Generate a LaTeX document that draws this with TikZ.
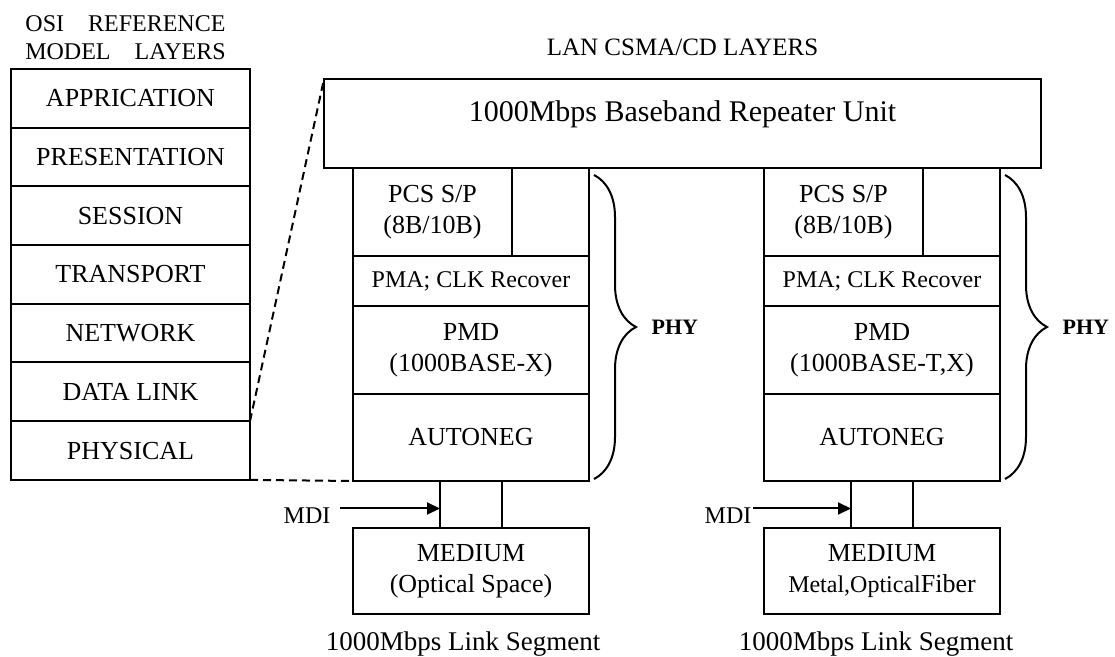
\documentclass[tikz,border=0pt]{standalone}
\usepackage{fontspec}
\setmainfont{Liberation Serif}
\usepackage{tikz}
\usetikzlibrary{positioning,calc,arrows.meta,decorations.pathreplacing}
\tikzset{
  osi layer/.style={rectangle, draw, align=center, minimum width=119.5pt, minimum height=29.35pt, inner sep=0pt, outer sep=0pt, font=\fontsize{13}{15.5}\selectfont},
  lan layer/.style={rectangle, draw, align=center, minimum width=118pt, inner sep=0pt, outer sep=0pt, font=\fontsize{13}{15.5}\selectfont},
  pcs layer/.style={lan layer, minimum width=79.5pt, minimum height=44pt},
  mdi box/.style={rectangle, draw, minimum width=31pt, minimum height=23.5pt, inner sep=0pt, outer sep=0pt},
  repeater unit/.style={rectangle, draw, minimum width=358.5pt, minimum height=44.5pt, inner sep=0pt, outer sep=0pt},
  head text/.style={align=center, font=\fontsize{12.5}{14}\selectfont},
  mdi label/.style={font=\fontsize{12}{14}\selectfont},
  mdi arrow/.style={-{Triangle[length=6.5pt,width=6pt]}},
  zoom line/.style={dash pattern=on 4pt off 2.5pt},
  phy brace/.style={decorate, decoration={brace, amplitude=21pt}},
  phy label/.style={font=\bfseries\fontsize{11}{13}\selectfont},
  segment label/.style={font=\fontsize{13.5}{15}\selectfont}
}

\begin{document}
\begin{tikzpicture}[x=0.5pt, y=-0.5pt, line width=1pt]
    \useasboundingbox (0,0) rectangle (1115,657);

    % OSI reference model
    \node [osi layer, anchor=north west] (Osi1) at (11,69) {APPRICATION};
    \node [osi layer, below=0pt of Osi1] (Osi2) {PRESENTATION};
    \node [osi layer, below=0pt of Osi2] (Osi3) {SESSION};
    \node [osi layer, below=0pt of Osi3] (Osi4) {TRANSPORT};
    \node [osi layer, below=0pt of Osi4] (Osi5) {NETWORK};
    \node [osi layer, below=0pt of Osi5] (Osi6) {DATA LINK};
    \node [osi layer, below=0pt of Osi6] (Osi7) {PHYSICAL};
    \node [head text, font=\fontsize{12}{14}\selectfont, above=1pt of Osi1, xshift=-2.5pt] (OsiTitle) {OSI\quad REFERENCE\\MODEL\quad LAYERS};

    % repeater unit
    \node [repeater unit, anchor=north west] (Rep) at (324,79) {};
    \node [font=\fontsize{15}{18}\selectfont] (RepText) at ([yshift=4.5pt]Rep.center) {1000Mbps Baseband Repeater Unit};
    \node [head text, above=8pt of Rep] (LanTitle) {LAN CSMA/CD LAYERS};

    % left PHY
    \node [pcs layer, below right=0pt and 14.5pt of Rep.south west] (Pcs1) {PCS S/P\\(8B/10B)};
    \node [lan layer, minimum height=25pt, font=\fontsize{12}{14}\selectfont, below=0pt of Pcs1.south west, anchor=north west] (Pma1) {PMA; CLK Recover};
    \node [lan layer, minimum height=44pt, below=0pt of Pma1] (Pmd1) {PMD\\(1000BASE-X)};
    \node [lan layer, minimum height=43.5pt, below=0pt of Pmd1] (Auto1) {AUTONEG};
    \node [mdi box, below=0pt of Auto1] (MdiBox1) {};
    \node [lan layer, minimum height=43pt, below=0pt of MdiBox1] (Med1) {MEDIUM\\(Optical Space)};
    \draw (Pma1.north east) -- (Pma1.north east |- Pcs1.north);
    \coordinate (MdiTail1) at ([xshift=-50pt, yshift=-2pt]MdiBox1.west);
    \node [mdi label, left=1pt of MdiTail1, yshift=-3.5pt] (Mdi1) {MDI};
    \draw [mdi arrow] (MdiTail1) -- (MdiTail1 -| MdiBox1.west);
    \node [segment label, below=5pt of Med1, xshift=-4pt] (Seg1) {1000Mbps Link Segment};
    \draw [phy brace] ($(Pma1.north east |- Pcs1.north)+(5,7)$) -- node[phy label, midway, right=25pt] (Phy1) {PHY} ($(Auto1.south east)+(5,-2)$);

    % right PHY
    \node [pcs layer, below right=0pt and 220pt of Rep.south west] (Pcs2) {PCS S/P\\(8B/10B)};
    \node [lan layer, minimum height=25pt, font=\fontsize{12}{14}\selectfont, below=0pt of Pcs2.south west, anchor=north west] (Pma2) {PMA; CLK Recover};
    \node [lan layer, minimum height=44pt, below=0pt of Pma2] (Pmd2) {PMD\\(1000BASE-T,X)};
    \node [lan layer, minimum height=43.5pt, below=0pt of Pmd2] (Auto2) {AUTONEG};
    \node [mdi box, below=0pt of Auto2] (MdiBox2) {};
    \node [lan layer, minimum height=43pt, below=0pt of MdiBox2] (Med2) {MEDIUM\\{\fontsize{12}{14}\selectfont Metal,Optical}Fiber};
    \draw (Pma2.north east) -- (Pma2.north east |- Pcs2.north);
    \coordinate (MdiTail2) at ([xshift=-49pt, yshift=-2pt]MdiBox2.west);
    \node [mdi label, left=-3pt of MdiTail2, yshift=-3.5pt] (Mdi2) {MDI};
    \draw [mdi arrow] (MdiTail2) -- (MdiTail2 -| MdiBox2.west);
    \node [segment label, below=5pt of Med2, xshift=-3pt] (Seg2) {1000Mbps Link Segment};
    \draw [phy brace] ($(Pma2.north east |- Pcs2.north)+(5,7)$) -- node[phy label, midway, right=25pt] (Phy2) {PHY} ($(Auto2.south east)+(5,-2)$);

    % zoom lines
    \draw [zoom line] (Osi7.north east) -- (Rep.north west);
    \draw [zoom line] (Osi7.south east) -- (Auto1.south west);

\end{tikzpicture}
\end{document}
